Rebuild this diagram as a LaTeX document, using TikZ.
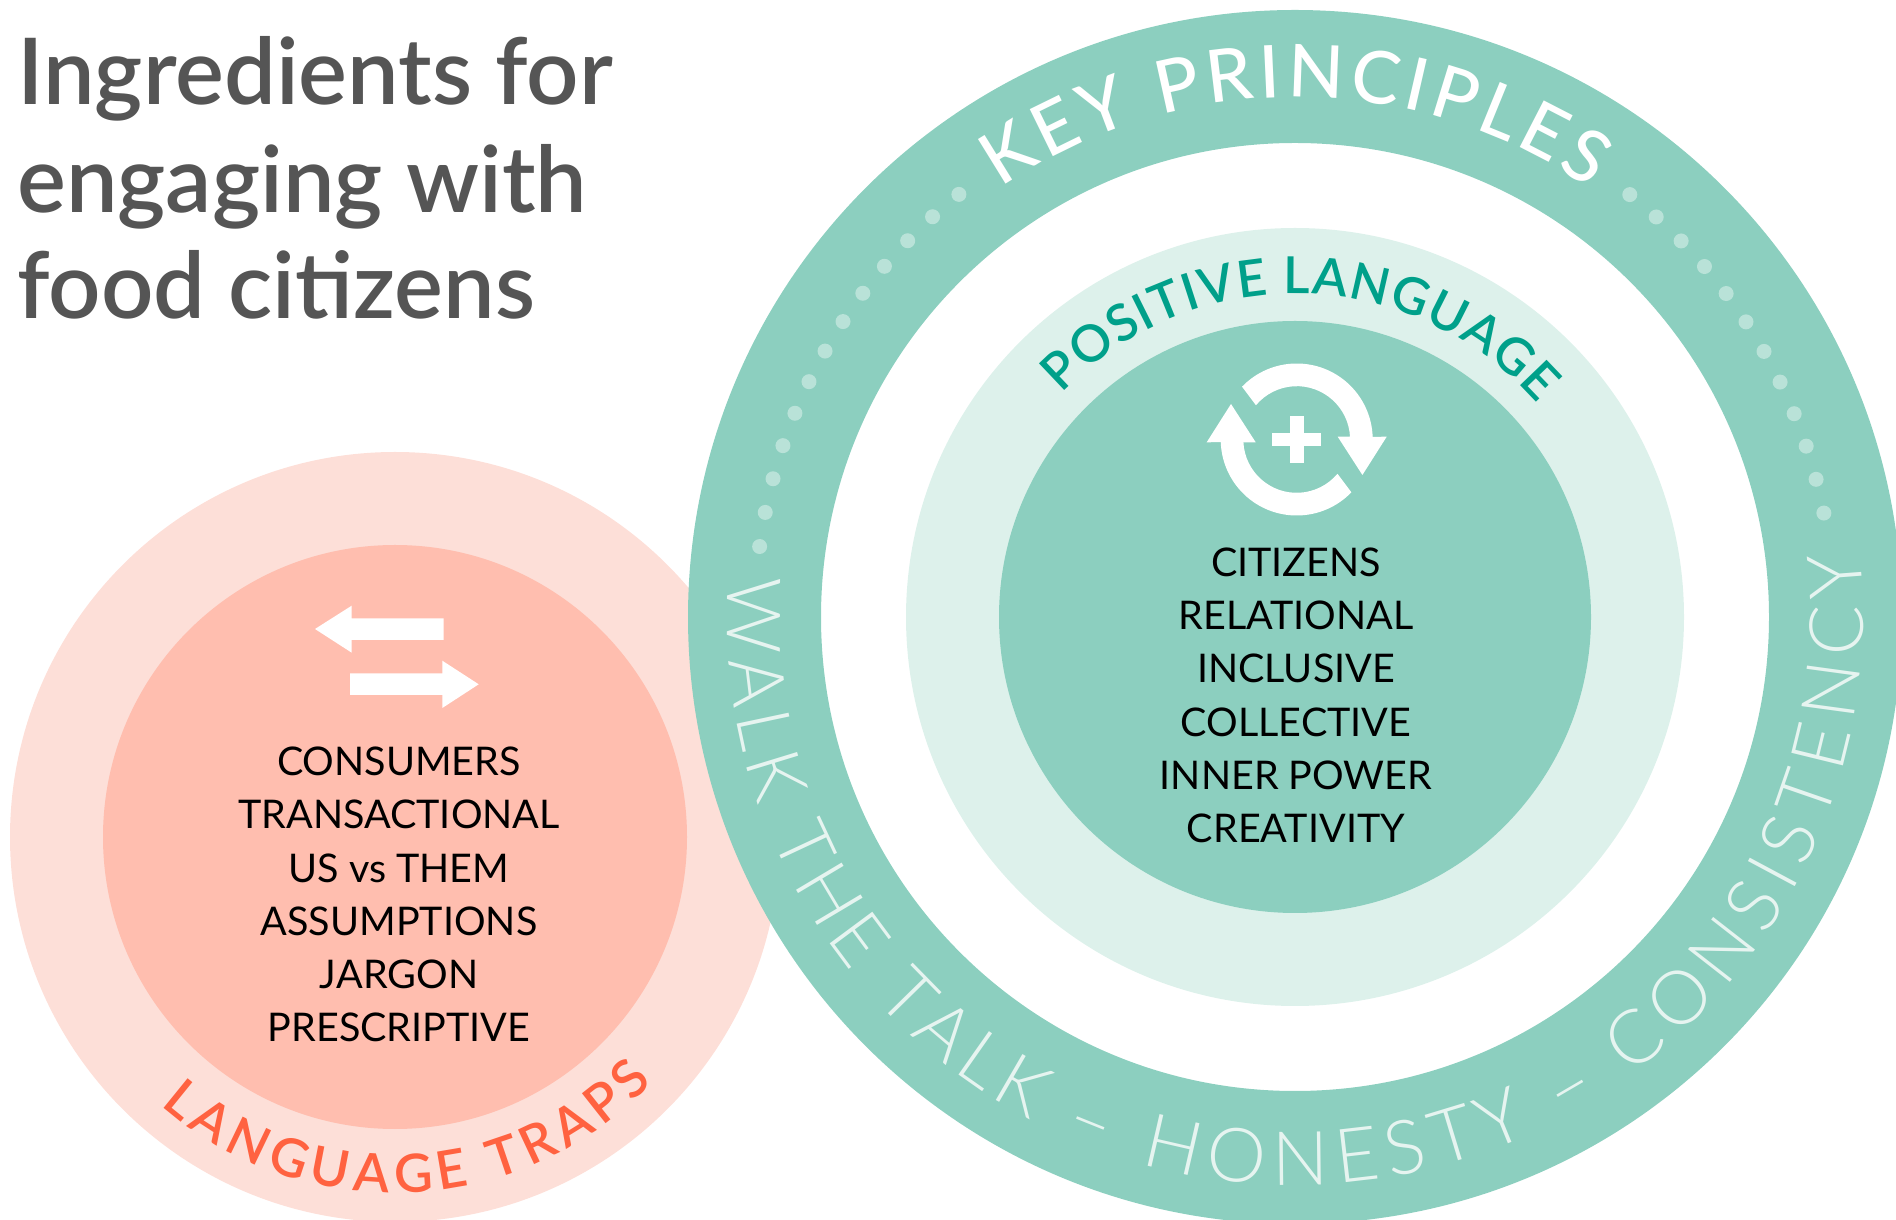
\documentclass[tikz,border=0pt]{standalone}
\usepackage{fontspec}
\usetikzlibrary{decorations.text}
\setmainfont{Lato}
\newfontfamily\latoM{Lato Medium}
\newfontfamily\latoS{Lato Semibold}
\newfontfamily\latoL{Lato Light}
\definecolor{ring}{HTML}{8CCFBF}
\definecolor{pale}{HTML}{DDF1EB}
\definecolor{dotc}{HTML}{B9E2D8}
\definecolor{teal}{HTML}{00A08A}
\definecolor{pinkO}{HTML}{FDDFD8}
\definecolor{pinkI}{HTML}{FFBEAF}
\definecolor{coral}{HTML}{FF6240}
\definecolor{ringtxt}{HTML}{E6F4F0}
\definecolor{title}{HTML}{555555}
\tikzset{
  listtext/.style={font=\fontsize{39.5}{53.3}\selectfont, text=black, anchor=center, align=center, inner sep=0pt},
  titletext/.style={font=\latoS\fontsize{92}{105.5}\selectfont, text=title, anchor=base west, inner sep=0pt, align=left},
  icon/.style={fill=white, draw=none},
  dotmark/.style={fill=dotc, draw=none}
}
\newcommand{\ringfont}{\latoL\fontsize{75}{75}\selectfont\color{ringtxt}}
\begin{document}
\begin{tikzpicture}[x=1pt,y=1pt]
\useasboundingbox (0,0) rectangle (1896,1219);
\clip (0,0) rectangle (1896,1219);
\coordinate (C) at (1295,602);
\coordinate (P) at (395,382);
% pink circles
\fill[pinkO] (P) circle[radius=385];
\fill[pinkI] (P) circle[radius=292];
% ring
\fill[ring,even odd rule] (C) circle[radius=607] (C) circle[radius=474];
\fill[pale] (C) circle[radius=389];
\fill[ring] (C) circle[radius=296];
% dots
\foreach \i in {0,...,12} \fill[dotmark] (C) ++({172.5-\i*3.667}:540) circle[radius=7.5];
\foreach \i in {0,...,11} \fill[dotmark] (C) ++({51.6-\i*3.68}:539) circle[radius=7.5];
% title
\node[titletext] (t1) at (17,1114) {Ingredients for};
\node[titletext] (t2) at (17,1006) {engaging with};
\node[titletext] (t3) at (17,900) {food citizens};
% curved texts
\path[decorate,decoration={text along path,text align=fit to path,
  text={|\latoM\fontsize{73}{73}\selectfont\color{white}|KEY PRINCIPLES}}]
  (C) ++(124.4:520) arc[start angle=124.4,end angle=55.5,radius=520];
\path[decorate,decoration={text along path,text align=fit to path,
  text={|\latoS\fontsize{51}{51}\selectfont\color{teal}|POSITIVE LANGUAGE}}]
  (C) ++(136.2:323) arc[start angle=136.2,end angle=41.2,radius=323];
\path[decorate,decoration={text along path,text align=fit to path,
  text={|\latoS\fontsize{53}{53}\selectfont\color{coral}|LANGUAGE TRAPS}}]
  (P) ++(228.8:356) arc[start angle=228.8,end angle=316.5,radius=356];
\path[decorate,decoration={text along path,text align=fit to path,
  text={|\ringfont|WALK THE TALK}}]
  (C) ++(176:568) arc[start angle=176,end angle=242.3,radius=568];
\path[decorate,decoration={text along path,text align=center,
  text={|\ringfont|–}}]
  (C) ++(243:568) arc[start angle=243,end angle=253.2,radius=568];
\path[decorate,decoration={text along path,text align=fit to path,
  text={|\ringfont|HONESTY}}]
  (C) ++(254.2:568) arc[start angle=254.2,end angle=294.5,radius=568];
\path[decorate,decoration={text along path,text align=center,
  text={|\ringfont|–}}]
  (C) ++(295.2:568) arc[start angle=295.2,end angle=305.4,radius=568];
\path[decorate,decoration={text along path,text align=fit to path,
  text={|\ringfont|CONSISTENCY}}]
  (C) ++(306.2:568) arc[start angle=306.2,end angle=366.6,radius=568];
% lists
\node[listtext] (pos) at (1296,523.5) {CITIZENS\\RELATIONAL\\INCLUSIVE\\COLLECTIVE\\INNER POWER\\CREATIVITY};
\node[listtext] (neg) at (399,324.5) {CONSUMERS\\TRANSACTIONAL\\US vs THEM\\ASSUMPTIONS\\JARGON\\PRESCRIPTIVE};
% recycle icon
\begin{scope}[shift={(1296.7,779.5)}]
  \foreach \r in {0,180}{
    \begin{scope}[rotate=\r]
      \fill[icon] (136:76) arc[start angle=136,end angle=2,radius=76]
        -- (90,2.8) -- (65.7,-35.5) -- (41,2.8) -- (53.3,2.8)
        arc[start angle=3,end angle=140,radius=53.3] -- cycle;
    \end{scope}
  }
  \fill[icon] (-24.5,-6.8) rectangle (24.5,6.8);
  \fill[icon] (-7,-23.3) rectangle (7,23.3);
\end{scope}
% swap arrows
\fill[icon] (315,590) -- (351.7,613.3) -- (351.7,600.7) -- (443.7,600.7) -- (443.7,579) -- (351.7,579) -- (351.7,566.3) -- cycle;
\fill[icon] (350,545.7) -- (350,524) -- (442.3,524) -- (442.3,511) -- (478.7,534.7) -- (442.3,558.3) -- (442.3,545.7) -- cycle;
\end{tikzpicture}
\end{document}
